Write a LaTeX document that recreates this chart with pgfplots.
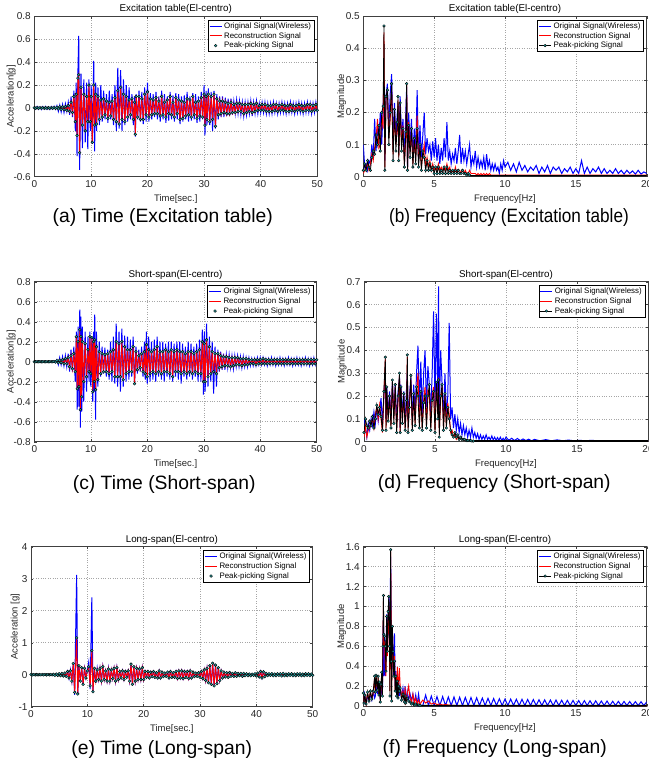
\documentclass[border=0pt]{standalone}
\usepackage{fontspec}
\setmainfont{Liberation Sans}
\usepackage{graphicx}
\usepackage{pgfplots}
\usepackage{pgfplotstable}
\pgfplotsset{compat=1.18}
\definecolor{mblue}{rgb}{0,0,1}
\definecolor{mred}{rgb}{1,0,0}
\definecolor{mteal}{RGB}{40,170,170}
\pgfplotsset{
  mat/.style={
    scale only axis,
    axis line style={black!75, line width=0.5pt},
    every tick/.style={black!75, line width=0.4pt},
    major tick length=2.5pt,
    grid=major, major grid style={black!35, dotted, line width=0.45pt},
    tick label style={font=\fontsize{10}{11}\selectfont, text=black!85},
    label style={font=\fontsize{9.5}{10}\selectfont, text=black!85},
    ylabel shift=-9pt,
    title style={font=\fontsize{9.8}{10}\selectfont, yshift=-7pt},
    /pgf/number format/assume math mode=true,
    scaled ticks=false,
    yticklabel style={/pgf/number format/fixed},
    legend cell align=left,
    legend style={at={(1,1)}, anchor=north east, xshift=-3pt, yshift=-3.5pt, draw=black, line width=0.5pt,
      font=\fontsize{7.9}{8}\selectfont, inner xsep=1pt, inner ysep=0.5pt, row sep=-1.5pt},
    legend image code/.code={\draw[mark repeat=2,mark phase=2,##1,line width=0.9pt] plot coordinates {(0pt,0pt) (6pt,0pt) (12pt,0pt)};},
  },
  bl/.style={mblue, line width=1pt},
  rd/.style={mred, line width=0.9pt},
  pk/.style={only marks, mark=*, mark size=1.4pt, mark options={fill=mteal, draw=black, line width=0.4pt}},
  pkl/.style={black, line width=0.8pt, mark=*, mark size=1.3pt, mark options={fill=mteal, draw=black, line width=0.4pt}},
}
\newcommand{\capfont}{\fontsize{19.3}{22}\selectfont}

\pgfplotstableread{
t b r
0 0.012 0.002
0.25 -0.01 -0.002
0.5 0.013 0.002
0.75 -0.012 -0.002
1 0.01 0.002
1.25 -0.013 -0.002
1.5 0.012 0.002
1.75 -0.01 -0.002
2 0.013 0.002
2.25 -0.012 -0.002
2.5 0.01 0.002
2.75 -0.013 -0.002
3 0.012 0.002
3.25 -0.01 -0.002
3.5 0.014 0.003
3.75 -0.012 -0.003
4 0.02 0.005
4.25 -0.03 -0.008
4.5 0.025 0.01
4.75 -0.035 -0.012
5 0.03 0.01
5.25 -0.04 -0.015
5.5 0.035 0.012
5.75 -0.03 -0.02
6 0.05 0.02
6.25 -0.06 -0.03
6.5 0.1 0.05
6.75 -0.08 -0.04
7 0.15 0.1
7.25 -0.2 -0.12
7.4 0.22 0.12
7.55 -0.42 -0.24
7.7 0.3 0.26
7.85 0.63 0.29
8 -0.54 -0.39
8.25 0.3 0.18
8.5 -0.35 -0.15
8.75 0.25 0.12
9 -0.3 -0.2
9.25 0.22 0.1
9.45 -0.36 -0.12
9.65 0.25 0.2
9.9 -0.2 -0.12
10.05 0.2 0.1
10.25 -0.31 -0.3
10.5 0.41 0.2
10.65 -0.38 -0.15
10.85 0.22 0.12
11 -0.2 -0.14
11.25 0.18 0.1
11.5 -0.15 -0.1
11.75 0.2 0.07
12 -0.12 -0.08
12.25 0.15 0.08
12.5 -0.1 -0.06
12.75 0.12 0.06
13 -0.13 -0.09
13.25 0.15 0.05
13.5 -0.1 -0.07
13.75 0.12 0.06
14 -0.15 -0.1
14.25 0.2 0.09
14.5 -0.2 -0.12
14.75 0.35 0.15
15 -0.18 -0.14
15.25 0.33 0.18
15.5 -0.2 -0.1
15.75 0.25 0.12
16 -0.15 -0.12
16.25 0.2 0.1
16.5 -0.12 -0.08
16.75 0.18 0.07
17 -0.1 -0.06
17.25 0.12 0.08
17.5 -0.15 -0.1
17.7 0.1 0.05
17.85 -0.25 -0.23
18 0.12 0.1
18.25 -0.1 -0.08
18.5 0.15 0.1
18.75 -0.12 -0.1
19 0.14 0.08
19.25 -0.14 -0.1
19.5 0.18 0.12
19.75 -0.12 -0.06
20 0.22 0.14
20.25 -0.12 -0.08
20.5 0.13 0.08
20.75 -0.1 -0.06
21 0.12 0.07
21.25 -0.08 -0.05
21.5 0.14 0.09
21.75 -0.1 -0.05
22 0.1 0.06
22.25 -0.12 -0.07
22.5 0.15 0.1
22.75 -0.1 -0.06
23 0.12 0.05
23.25 -0.13 -0.08
23.5 0.1 0.07
23.75 -0.11 -0.05
24 0.14 0.1
24.25 -0.1 -0.06
24.5 0.11 0.05
24.75 -0.12 -0.08
25 0.13 0.09
25.25 -0.1 -0.05
25.5 0.12 0.07
25.75 -0.14 -0.1
26 0.1 0.06
26.25 -0.12 -0.09
26.5 0.11 0.05
26.75 -0.1 -0.07
27 0.14 0.08
27.25 -0.12 -0.06
27.5 0.1 0.07
27.75 -0.11 -0.08
28 0.13 0.1
28.25 -0.1 -0.06
28.5 0.12 0.05
28.75 -0.13 -0.09
29 0.1 0.06
29.25 -0.12 -0.07
29.5 0.14 0.09
29.75 -0.1 -0.08
30 0.2 0.12
30.15 -0.24 -0.15
30.35 0.15 0.1
30.5 -0.15 -0.1
30.75 0.17 0.12
31 -0.15 -0.12
31.25 0.14 0.1
31.5 -0.2 -0.1
31.75 0.15 0.12
32 -0.18 -0.16
32.25 0.12 0.08
32.5 -0.1 -0.06
32.75 0.1 0.06
33 -0.08 -0.05
33.25 0.1 0.06
33.5 -0.08 -0.04
33.75 0.09 0.05
34 -0.07 -0.05
34.25 0.08 0.04
34.5 -0.07 -0.05
34.75 0.08 0.05
35 -0.06 -0.04
35.25 0.06 0.03
35.5 -0.05 -0.04
35.75 0.07 0.04
36 -0.05 -0.03
36.25 0.06 0.04
36.5 -0.06 -0.03
36.75 0.05 0.03
37 -0.07 -0.05
37.25 0.05 0.03
37.5 -0.06 -0.04
37.75 0.05 0.03
38 -0.05 -0.03
38.25 0.06 0.04
38.5 -0.07 -0.04
38.75 0.05 0.03
39 -0.05 -0.03
39.25 0.06 0.04
39.5 -0.05 -0.02
39.75 0.04 0.02
40 -0.04 -0.02
40.25 0.05 0.03
40.5 -0.04 -0.02
40.75 0.05 0.03
41 -0.05 -0.03
41.25 0.04 0.02
41.5 -0.05 -0.03
41.75 0.04 0.02
42 -0.05 -0.03
42.25 0.05 0.03
42.5 -0.04 -0.02
42.75 0.04 0.03
43 -0.05 -0.03
43.25 0.04 0.02
43.5 -0.04 -0.02
43.75 0.05 0.03
44 -0.04 -0.02
44.25 0.04 0.02
44.5 -0.05 -0.03
44.75 0.04 0.02
45 -0.04 -0.03
45.25 0.05 0.03
45.5 -0.04 -0.02
45.75 0.04 0.02
46 -0.05 -0.03
46.25 0.04 0.02
46.5 -0.04 -0.02
46.75 0.05 0.03
47 -0.04 -0.02
47.25 0.04 0.02
47.5 -0.05 -0.03
47.75 0.04 0.02
48 -0.04 -0.02
48.25 0.05 0.03
48.5 -0.04 -0.02
48.75 0.04 0.03
49 -0.05 -0.03
49.25 0.04 0.02
49.5 -0.04 -0.02
49.75 0.05 0.03
50 -0.04 -0.02
}\tA

\pgfplotstableread{
f b r k
0 0.1 0.01 0.02
0.1 0.03 0.02 0.04
0.2 0.04 0.03 0.02
0.3 0.02 0.04 0.05
0.4 0.05 0.02 0.03
0.5 0.04 0.04 0.02
0.6 0.1 0.07 0.06
0.7 0.06 0.05 0.08
0.8 0.18 0.09 0.07
0.9 0.08 0.12 0.13
1.0 0.15 0.18 0.1
1.1 0.12 0.09 0.16
1.2 0.2 0.1 0.08
1.3 0.1 0.19 0.2
1.4 0.22 0.15 0.22
1.46 0.3 0.45 0.47
1.52 0.05 0.03 0.02
1.6 0.25 0.24 0.25
1.7 0.29 0.27 0.27
1.8 0.15 0.12 0.1
1.9 0.26 0.18 0.2
2.0 0.32 0.28 0.29
2.1 0.1 0.07 0.05
2.2 0.23 0.2 0.21
2.3 0.12 0.1 0.08
2.4 0.2 0.15 0.17
2.45 0.22 0.24 0.25
2.5 0.08 0.06 0.05
2.6 0.25 0.22 0.23
2.7 0.12 0.1 0.08
2.8 0.18 0.16 0.15
2.9 0.06 0.04 0.03
3.0 0.2 0.12 0.14
3.06 0.28 0.29 0.29
3.12 0.03 0.02 0.02
3.2 0.2 0.17 0.16
3.3 0.1 0.08 0.06
3.4 0.18 0.14 0.15
3.5 0.06 0.04 0.03
3.6 0.15 0.11 0.12
3.7 0.08 0.06 0.04
3.8 0.27 0.19 0.15
3.9 0.05 0.05 0.03
4.0 0.16 0.09 0.1
4.1 0.06 0.03 0.02
4.2 0.13 0.07 0.08
4.3 0.2 0.1 0.06
4.4 0.07 0.03 0.02
4.5 0.12 0.06 0.05
4.6 0.08 0.03 0.02
4.7 0.1 0.05 0.04
4.8 0.05 0.02 0.02
4.9 0.11 0.04 0.03
5.0 0.06 0.02 0.01
5.1 0.12 0.03 0.03
5.2 0.05 0.02 0.01
5.3 0.1 0.04 0.03
5.4 0.04 0.02 0.01
5.5 0.09 0.03 0.02
5.6 0.05 0.02 0.01
5.7 0.12 0.03 0.03
5.8 0.06 0.02 0.01
5.9 0.17 0.04 0.03
6.0 0.05 0.02 0.01
6.1 0.08 0.03 0.02
6.2 0.04 0.01 0.01
6.3 0.07 0.02 0.02
6.4 0.05 0.01 0.01
6.5 0.09 0.03 0.02
6.6 0.04 0.01 0.01
6.7 0.08 0.02 0.02
6.8 0.13 0.02 0.01
6.9 0.04 0.01 0.01
7.0 0.09 0.02 0.02
7.1 0.05 0.01 0.01
7.2 0.08 0.02 0.01
7.3 0.04 0.01 0.005
7.4 0.07 0.01 0.01
7.5 0.1 0.02 0.005
7.6 0.03 0.01 0.003
7.7 0.06 0.01 0.003
7.8 0.04 0.01 0.003
7.9 0.08 0.01 0.003
8.0 0.03 0.005 0.003
8.1 0.06 0.01 0.003
8.2 0.03 0.005 0.003
8.3 0.05 0.01 0.003
8.4 0.03 0.005 0.003
8.5 0.06 0.01 0.003
8.6 0.02 0.005 0.003
8.7 0.07 0.01 0.003
8.8 0.03 0.005 0.003
8.9 0.05 0.01 0.003
9.0 0.02 0.005 0.003
9.1 0.04 0.005 0.003
9.2 0.02 0.005 0.003
9.3 0.04 0.005 0.003
9.4 0.02 0.005 0.003
9.5 0.03 0.005 0.003
9.6 0.01 0.005 0.003
9.7 0.04 0.005 0.003
9.8 0.02 0.005 0.003
9.9 0.05 0.005 0.003
10.0 0.03 0.005 0.003
10.2 0.045 0.005 0.003
10.4 0.02 0.005 0.003
10.6 0.04 0.005 0.003
10.8 0.015 0.005 0.003
11.0 0.045 0.005 0.003
11.2 0.02 0.005 0.003
11.4 0.035 0.005 0.003
11.6 0.015 0.005 0.003
11.8 0.03 0.005 0.003
12.0 0.02 0.005 0.003
12.2 0.035 0.005 0.003
12.4 0.01 0.005 0.003
12.6 0.03 0.005 0.003
12.8 0.015 0.005 0.003
13.0 0.035 0.005 0.003
13.2 0.01 0.005 0.003
13.4 0.03 0.005 0.003
13.6 0.02 0.005 0.003
13.8 0.03 0.005 0.003
14.0 0.01 0.005 0.003
14.2 0.025 0.005 0.003
14.4 0.015 0.005 0.003
14.6 0.03 0.005 0.003
14.8 0.01 0.005 0.003
15.0 0.025 0.005 0.003
15.2 0.01 0.005 0.003
15.4 0.05 0.005 0.003
15.6 0.01 0.005 0.003
15.8 0.03 0.005 0.003
16.0 0.01 0.005 0.003
16.2 0.025 0.005 0.003
16.4 0.015 0.005 0.003
16.6 0.03 0.005 0.003
16.8 0.01 0.005 0.003
17.0 0.025 0.005 0.003
17.2 0.01 0.005 0.003
17.4 0.02 0.005 0.003
17.6 0.01 0.005 0.003
17.8 0.025 0.005 0.003
18.0 0.01 0.005 0.003
18.2 0.02 0.005 0.003
18.4 0.008 0.005 0.003
18.6 0.02 0.005 0.003
18.8 0.01 0.005 0.003
19.0 0.018 0.005 0.003
19.2 0.008 0.005 0.003
19.4 0.02 0.005 0.003
19.6 0.008 0.005 0.003
19.8 0.015 0.005 0.003
20.0 0.01 0.005 0.003
}\tB

\pgfplotstableread{
t b r
0 0.005 0
0.25 -0.005 0
0.5 0.005 0
0.75 -0.005 0
1 0.005 0
1.25 -0.005 0
1.5 0.005 0
1.75 -0.005 0
2 0.005 0
2.25 -0.005 0
2.5 0.005 0
2.75 -0.005 0
3 0.005 0
3.25 -0.005 0
3.5 0.008 0.002
3.75 -0.01 -0.003
4 0.02 0.01
4.25 -0.03 -0.01
4.5 0.04 0.015
4.75 -0.03 -0.01
5 0.05 0.02
5.25 -0.04 -0.02
5.5 0.06 0.03
5.75 -0.05 -0.02
6 0.08 0.04
6.25 -0.1 -0.05
6.5 0.12 0.06
6.75 -0.1 -0.07
7 0.15 0.08
7.25 -0.2 -0.1
7.45 0.3 0.25
7.6 -0.48 -0.27
7.75 0.35 0.2
7.9 -0.45 -0.25
8.05 0.52 0.32
8.15 -0.66 -0.48
8.25 0.45 0.25
8.4 -0.5 -0.35
8.5 0.35 0.2
8.75 -0.4 -0.2
9 0.3 0.18
9.25 -0.3 -0.15
9.5 0.25 0.12
9.7 -0.2 -0.1
9.85 0.3 0.25
10 -0.25 -0.12
10.2 0.25 0.24
10.35 -0.4 -0.3
10.5 0.3 0.2
10.6 -0.3 -0.2
10.7 0.47 0.22
10.85 -0.58 -0.28
11 0.3 0.15
11.25 -0.25 -0.18
11.5 0.2 0.1
11.75 -0.15 -0.12
12 0.15 0.08
12.25 -0.12 -0.1
12.5 0.14 0.07
12.75 -0.15 -0.1
13 0.12 0.08
13.25 -0.18 -0.12
13.5 0.2 0.1
13.75 -0.2 -0.1
14 0.25 0.12
14.25 -0.22 -0.15
14.5 0.38 0.2
14.75 -0.25 -0.15
15 0.3 0.18
15.25 -0.3 -0.15
15.5 0.33 0.2
15.75 -0.25 -0.18
16 0.26 0.15
16.25 -0.2 -0.12
16.5 0.25 0.12
16.75 -0.18 -0.1
17 0.22 0.12
17.25 -0.15 -0.1
17.5 0.25 0.15
17.75 -0.22 -0.22
18 0.15 0.1
18.25 -0.12 -0.08
18.5 0.12 0.06
18.75 -0.1 -0.06
19 0.15 0.08
19.25 -0.15 -0.1
19.5 0.2 0.1
19.65 -0.18 -0.12
19.85 0.3 0.17
20 -0.22 -0.15
20.25 0.25 0.12
20.5 -0.2 -0.12
20.75 0.2 0.1
21 -0.18 -0.1
21.25 0.22 0.12
21.5 -0.2 -0.12
21.75 0.25 0.15
22 -0.15 -0.1
22.25 0.2 0.1
22.5 -0.18 -0.12
22.75 0.2 0.1
23 -0.2 -0.1
23.25 0.18 0.12
23.5 -0.15 -0.1
23.75 0.2 0.1
24 -0.18 -0.12
24.25 0.2 0.12
24.5 -0.2 -0.15
24.75 0.18 0.1
25 -0.15 -0.1
25.25 0.2 0.12
25.5 -0.18 -0.1
25.75 0.2 0.1
26 -0.22 -0.12
26.25 0.18 0.1
26.5 -0.15 -0.1
26.75 0.15 0.08
27 -0.18 -0.12
27.25 0.2 0.1
27.5 -0.15 -0.1
27.75 0.18 0.1
28 -0.18 -0.12
28.25 0.15 0.08
28.5 -0.15 -0.1
28.75 0.18 0.1
29 -0.2 -0.12
29.25 0.22 0.12
29.5 -0.2 -0.12
29.75 0.32 0.2
29.95 -0.33 -0.2
30.1 0.3 0.18
30.25 -0.3 -0.2
30.5 0.38 0.22
30.75 -0.25 -0.15
31 0.25 0.15
31.25 -0.2 -0.12
31.5 0.2 0.1
31.75 -0.32 -0.1
32 0.15 0.08
32.25 -0.25 -0.12
32.5 0.12 0.08
32.75 -0.1 -0.06
33 0.1 0.06
33.25 -0.08 -0.05
33.5 0.08 0.05
33.75 -0.08 -0.04
34 0.07 0.05
34.25 -0.06 -0.04
34.5 0.07 0.04
34.75 -0.06 -0.05
35 0.06 0.04
35.25 -0.07 -0.04
35.5 0.06 0.04
35.75 -0.05 -0.03
36 0.06 0.04
36.25 -0.05 -0.03
36.5 0.05 0.03
36.75 -0.06 -0.04
37 0.05 0.03
37.25 -0.05 -0.03
37.5 0.04 0.03
37.75 -0.05 -0.03
38 0.04 0.02
38.25 -0.04 -0.02
38.5 0.03 0.02
38.75 -0.04 -0.02
39 0.03 0.02
39.25 -0.04 -0.03
39.5 0.04 0.02
39.75 -0.03 -0.02
40 0.04 0.02
40.25 -0.03 -0.02
40.5 0.04 0.03
40.75 -0.03 -0.02
41 0.03 0.02
41.25 -0.04 -0.02
41.5 0.03 0.02
41.75 -0.03 -0.02
42 0.04 0.02
42.25 -0.03 -0.02
42.5 0.03 0.02
42.75 -0.04 -0.02
43 0.03 0.02
43.25 -0.03 -0.02
43.5 0.04 0.02
43.75 -0.03 -0.02
44 0.03 0.02
44.25 -0.04 -0.02
44.5 0.03 0.02
44.75 -0.03 -0.02
45 0.04 0.02
45.25 -0.03 -0.02
45.5 0.03 0.02
45.75 -0.04 -0.02
46 0.03 0.02
46.25 -0.03 -0.02
46.5 0.04 0.02
46.75 -0.03 -0.02
47 0.03 0.02
47.25 -0.04 -0.02
47.5 0.03 0.02
47.75 -0.03 -0.02
48 0.04 0.02
48.25 -0.03 -0.02
48.5 0.03 0.02
48.75 -0.04 -0.02
49 0.03 0.02
49.25 -0.03 -0.02
49.5 0.04 0.02
49.75 -0.03 -0.02
50 0.03 0.02
}\tC

\pgfplotstableread{
f b r k
0 0.1 0.02 0.04
0.1 0.06 0.07 0.1
0.2 0.02 0.02 0.07
0.3 0.08 0.05 0.06
0.4 0.05 0.06 0.09
0.5 0.1 0.08 0.07
0.6 0.07 0.1 0.11
0.7 0.13 0.06 0.06
0.8 0.08 0.12 0.1
0.9 0.15 0.15 0.16
1.0 0.09 0.1 0.12
1.1 0.14 0.16 0.15
1.2 0.19 0.1 0.11
1.3 0.08 0.04 0.05
1.4 0.2 0.2 0.22
1.5 0.3 0.36 0.37
1.55 0.1 0.06 0.05
1.6 0.24 0.22 0.24
1.7 0.12 0.1 0.09
1.8 0.22 0.2 0.2
1.9 0.1 0.07 0.06
2.0 0.26 0.26 0.27
2.1 0.12 0.1 0.08
2.2 0.25 0.24 0.25
2.3 0.08 0.05 0.04
2.4 0.22 0.18 0.2
2.5 0.28 0.29 0.3
2.55 0.06 0.04 0.04
2.6 0.25 0.23 0.24
2.7 0.12 0.09 0.08
2.8 0.22 0.2 0.21
2.9 0.08 0.06 0.05
3.0 0.24 0.17 0.18
3.05 0.3 0.37 0.38
3.1 0.1 0.06 0.04
3.2 0.2 0.17 0.15
3.3 0.28 0.27 0.29
3.4 0.1 0.06 0.05
3.5 0.25 0.2 0.21
3.6 0.12 0.08 0.07
3.7 0.3 0.22 0.24
3.8 0.42 0.3 0.2
3.9 0.15 0.08 0.06
4.0 0.35 0.2 0.22
4.1 0.12 0.06 0.05
4.2 0.3 0.18 0.17
4.3 0.4 0.24 0.2
4.4 0.15 0.07 0.06
4.5 0.33 0.22 0.2
4.6 0.25 0.2 0.25
4.7 0.12 0.06 0.05
4.8 0.3 0.2 0.18
4.9 0.57 0.24 0.22
5.0 0.15 0.05 0.04
5.1 0.56 0.25 0.26
5.2 0.2 0.12 0.1
5.25 0.68 0.28 0.27
5.3 0.12 0.04 0.02
5.4 0.4 0.18 0.2
5.5 0.25 0.24 0.25
5.6 0.1 0.06 0.05
5.7 0.3 0.2 0.21
5.8 0.12 0.07 0.06
5.9 0.2 0.17 0.15
6.0 0.52 0.12 0.1
6.1 0.1 0.04 0.05
6.2 0.15 0.05 0.03
6.3 0.06 0.02 0.02
6.4 0.12 0.03 0.04
6.5 0.05 0.01 0.02
6.6 0.1 0.02 0.03
6.7 0.04 0.01 0.01
6.8 0.08 0.02 0.02
6.9 0.03 0.01 0.01
7.0 0.07 0.01 0.01
7.1 0.03 0.005 0.01
7.2 0.06 0.01 0.005
7.3 0.02 0.005 0.005
7.4 0.05 0.005 0.005
7.5 0.02 0.005 0.005
7.6 0.06 0.005 0.003
7.7 0.02 0.003 0.003
7.8 0.04 0.003 0.003
7.9 0.015 0.003 0.003
8.0 0.035 0.003 0.003
8.1 0.01 0.003 0.003
8.2 0.03 0.003 0.003
8.3 0.01 0.003 0.003
8.4 0.025 0.003 0.003
8.5 0.01 0.003 0.003
8.6 0.03 0.003 0.003
8.7 0.01 0.003 0.003
8.8 0.02 0.003 0.003
8.9 0.008 0.003 0.003
9.0 0.025 0.003 0.003
9.1 0.008 0.003 0.003
9.2 0.02 0.003 0.003
9.3 0.006 0.003 0.003
9.4 0.018 0.003 0.003
9.5 0.006 0.003 0.003
9.6 0.02 0.003 0.003
9.7 0.006 0.003 0.003
9.8 0.015 0.003 0.003
9.9 0.005 0.003 0.003
10.0 0.02 0.003 0.003
10.2 0.006 0.003 0.003
10.4 0.015 0.003 0.003
10.6 0.005 0.003 0.003
10.8 0.014 0.003 0.003
11.0 0.005 0.003 0.003
11.2 0.012 0.003 0.003
11.4 0.005 0.003 0.003
11.6 0.011 0.003 0.003
11.8 0.004 0.003 0.003
12.0 0.01 0.003 0.003
12.4 0.004 0.003 0.003
12.8 0.009 0.003 0.003
13.2 0.004 0.003 0.003
13.6 0.008 0.003 0.003
14.0 0.004 0.003 0.003
14.4 0.007 0.003 0.003
14.8 0.004 0.003 0.003
15.2 0.006 0.003 0.003
15.6 0.004 0.003 0.003
16.0 0.006 0.003 0.003
16.5 0.004 0.003 0.003
17.0 0.005 0.003 0.003
17.5 0.004 0.003 0.003
18.0 0.005 0.003 0.003
18.5 0.004 0.003 0.003
19.0 0.005 0.003 0.003
19.5 0.004 0.003 0.003
20.0 0.004 0.003 0.003
}\tD

\pgfplotstableread{
t b r
0 0.01 0.005
0.25 -0.01 -0.005
0.5 0.01 0.005
0.75 -0.01 -0.005
1 0.01 0.005
1.25 -0.01 -0.005
1.5 0.01 0.005
1.75 -0.01 -0.005
2 0.01 0.005
2.25 -0.01 -0.005
2.5 0.01 0.005
2.75 -0.01 -0.005
3 0.01 0.005
3.25 -0.01 -0.005
3.5 0.01 0.005
3.75 -0.01 -0.005
4 0.01 0.01
4.25 -0.02 -0.02
4.5 0.02 0.02
4.75 -0.02 -0.02
5 0.03 0.03
5.25 -0.03 -0.03
5.5 0.04 0.04
5.75 -0.04 -0.04
6 0.05 0.05
6.25 -0.05 -0.05
6.5 0.1 0.1
6.75 -0.12 -0.1
7 0.15 0.12
7.25 -0.2 -0.2
7.5 0.36 0.35
7.75 -0.63 -0.55
8.1 3.12 1.15
8.3 -0.6 -0.6
8.5 0.3 0.28
8.75 -0.2 -0.2
9 0.25 0.22
9.25 -0.3 -0.3
9.5 0.2 0.2
9.75 -0.1 -0.1
10 0.15 0.12
10.25 0.4 0.25
10.5 -0.45 -0.35
10.8 2.42 0.75
11 -0.53 -0.53
11.25 0.2 0.2
11.5 -0.25 -0.2
11.75 0.2 0.15
12 -0.15 -0.15
12.25 0.2 0.2
12.5 -0.2 -0.2
12.75 0.25 0.25
13 -0.15 -0.15
13.25 0.12 0.12
13.5 -0.2 -0.2
13.75 0.2 0.18
14 -0.2 -0.2
14.25 0.15 0.15
14.5 -0.12 -0.12
14.75 0.2 0.2
15 -0.2 -0.2
15.25 0.22 0.22
15.5 -0.15 -0.15
15.75 0.1 0.1
16 -0.1 -0.1
16.25 0.12 0.12
16.5 -0.15 -0.15
16.75 0.1 0.1
17 -0.08 -0.08
17.25 0.12 0.12
17.5 -0.2 -0.2
17.75 0.33 0.33
18 -0.3 -0.3
18.25 0.25 0.25
18.5 -0.2 -0.2
18.75 0.2 0.2
19 -0.15 -0.15
19.25 0.18 0.18
19.5 -0.15 -0.15
19.75 0.22 0.22
20 -0.15 -0.15
20.25 0.1 0.1
20.5 -0.08 -0.08
20.75 0.1 0.1
21 -0.1 -0.1
21.25 0.08 0.08
21.5 -0.06 -0.06
21.75 0.1 0.1
22 -0.08 -0.08
22.25 0.06 0.06
22.5 -0.1 -0.1
22.75 0.12 0.12
23 -0.1 -0.1
23.25 0.08 0.08
23.5 -0.06 -0.06
23.75 0.05 0.05
24 -0.05 -0.05
24.25 0.08 0.08
24.5 -0.1 -0.1
24.75 0.1 0.1
25 -0.08 -0.08
25.25 0.06 0.06
25.5 -0.08 -0.08
25.75 0.1 0.1
26 -0.12 -0.12
26.25 0.12 0.12
26.5 -0.1 -0.1
26.75 0.12 0.12
27 -0.12 -0.12
27.25 0.1 0.1
27.5 -0.08 -0.08
27.75 0.1 0.1
28 -0.12 -0.12
28.25 0.12 0.12
28.5 -0.1 -0.1
28.75 0.08 0.08
29 -0.06 -0.06
29.25 0.05 0.05
29.5 -0.05 -0.05
29.75 0.06 0.06
30 -0.08 -0.08
30.25 0.1 0.1
30.5 -0.12 -0.12
30.75 0.15 0.15
31 -0.18 -0.18
31.25 0.2 0.2
31.5 -0.25 -0.25
31.75 0.28 0.28
32 -0.3 -0.3
32.25 0.36 0.36
32.5 -0.35 -0.35
32.75 0.3 0.3
33 -0.28 -0.28
33.25 0.22 0.22
33.5 -0.18 -0.18
33.75 0.12 0.12
34 -0.1 -0.1
34.25 0.08 0.08
34.5 -0.07 -0.07
34.75 0.06 0.06
35 -0.08 -0.08
35.25 0.07 0.07
35.5 -0.05 -0.05
35.75 0.04 0.04
36 -0.05 -0.05
36.25 0.06 0.06
36.5 -0.05 -0.05
36.75 0.04 0.04
37 -0.03 -0.03
37.25 0.04 0.04
37.5 -0.05 -0.05
37.75 0.04 0.04
38 -0.03 -0.03
38.25 0.03 0.03
38.5 -0.03 -0.03
38.75 0.02 0.02
39 -0.03 -0.03
39.25 0.02 0.02
39.5 -0.02 -0.02
39.75 0.03 0.03
40 -0.04 -0.04
40.25 0.05 0.05
40.5 -0.07 -0.07
40.75 0.1 0.1
41 -0.1 -0.1
41.25 0.09 0.09
41.5 -0.06 -0.06
41.75 0.04 0.04
42 -0.03 -0.03
42.25 0.03 0.03
42.5 -0.02 -0.02
42.75 0.03 0.03
43 -0.03 -0.03
43.25 0.02 0.02
43.5 -0.03 -0.03
43.75 0.03 0.03
44 -0.02 -0.02
44.25 0.03 0.03
44.5 -0.04 -0.04
44.75 0.04 0.04
45 -0.03 -0.03
45.25 0.02 0.02
45.5 -0.03 -0.03
45.75 0.03 0.03
46 -0.02 -0.02
46.25 0.03 0.03
46.5 -0.03 -0.03
46.75 0.02 0.02
47 -0.03 -0.03
47.25 0.03 0.03
47.5 -0.02 -0.02
47.75 0.03 0.03
48 -0.03 -0.03
48.25 0.02 0.02
48.5 -0.03 -0.03
48.75 0.03 0.03
49 -0.02 -0.02
49.25 0.03 0.03
49.5 -0.03 -0.03
49.75 0.02 0.02
50 -0.02 -0.02
}\tE

\pgfplotstableread{
f b r k
0 0.1 0.13 0.13
0.05 0.05 0.03 0.03
0.1 0.12 0.1 0.11
0.2 0.03 0.02 0.02
0.3 0.1 0.13 0.14
0.4 0.05 0.06 0.05
0.5 0.12 0.14 0.15
0.6 0.06 0.08 0.07
0.7 0.14 0.12 0.15
0.8 0.08 0.28 0.3
0.85 0.1 0.15 0.14
0.9 0.25 0.3 0.31
1.0 0.12 0.15 0.16
1.05 0.22 0.28 0.3
1.1 0.1 0.12 0.11
1.15 0.2 0.22 0.24
1.2 0.06 0.05 0.04
1.25 0.2 0.2 0.22
1.3 0.15 0.32 0.34
1.35 0.1 0.12 0.1
1.38 0.6 0.55 0.6
1.42 0.9 1.05 1.11
1.45 0.3 0.6 0.72
1.5 0.7 0.65 0.7
1.55 0.3 0.4 0.6
1.6 0.5 0.3 0.35
1.65 0.92 0.85 0.9
1.7 0.6 0.5 0.55
1.75 0.8 0.88 0.95
1.8 1.1 1.0 1.1
1.85 0.7 0.5 0.6
1.88 0.5 0.15 0.1
1.93 1.5 1.55 1.57
1.98 0.6 0.5 0.45
2.0 0.3 0.1 0.05
2.05 0.75 0.8 0.8
2.1 0.5 0.45 0.55
2.15 0.3 0.35 0.3
2.2 0.73 0.5 0.45
2.25 0.2 0.15 0.15
2.3 0.35 0.3 0.3
2.35 0.15 0.12 0.1
2.4 0.3 0.39 0.25
2.45 0.1 0.1 0.08
2.5 0.25 0.3 0.2
2.55 0.1 0.38 0.15
2.6 0.2 0.2 0.18
2.7 0.08 0.1 0.06
2.8 0.18 0.15 0.12
2.9 0.06 0.05 0.04
2.95 0.2 0.19 0.1
3.0 0.05 0.04 0.03
3.1 0.15 0.12 0.08
3.2 0.06 0.2 0.05
3.3 0.12 0.08 0.04
3.4 0.05 0.04 0.02
3.5 0.12 0.12 0.03
3.6 0.03 0.03 0.01
3.7 0.11 0.08 0.02
3.8 0.02 0.02 0.01
3.9 0.12 0.06 0.01
4.0 0.01 0.02 0.005
4.2 0.005 0.06 0.003
4.4 0.11 0.03 0.003
4.6 0.005 0.05 0.003
4.8 0.1 0.02 0.003
5.0 0.005 0.03 0.003
5.2 0.095 0.015 0.003
5.4 0.005 0.02 0.003
5.6 0.095 0.01 0.003
5.8 0.005 0.015 0.003
6.0 0.09 0.01 0.003
6.2 0.005 0.008 0.003
6.4 0.09 0.006 0.003
6.6 0.005 0.004 0.003
6.8 0.088 0.004 0.003
7.0 0.005 0.004 0.003
7.2 0.087 0.004 0.003
7.4 0.005 0.004 0.003
7.6 0.085 0.004 0.003
7.8 0.005 0.004 0.003
8.0 0.083 0.004 0.003
8.2 0.005 0.004 0.003
8.4 0.08 0.004 0.003
8.6 0.005 0.004 0.003
8.8 0.078 0.004 0.003
9.0 0.005 0.004 0.003
9.2 0.075 0.004 0.003
9.4 0.005 0.004 0.003
9.6 0.073 0.004 0.003
9.8 0.005 0.004 0.003
10.0 0.07 0.004 0.003
10.2 0.005 0.004 0.003
10.4 0.07 0.004 0.003
10.6 0.005 0.004 0.003
10.8 0.068 0.004 0.003
11.0 0.005 0.004 0.003
11.2 0.067 0.004 0.003
11.4 0.005 0.004 0.003
11.6 0.066 0.004 0.003
11.8 0.005 0.004 0.003
12.0 0.065 0.004 0.003
12.2 0.005 0.004 0.003
12.4 0.063 0.004 0.003
12.6 0.005 0.004 0.003
12.8 0.062 0.004 0.003
13.0 0.005 0.004 0.003
13.2 0.06 0.004 0.003
13.4 0.005 0.004 0.003
13.6 0.06 0.004 0.003
13.8 0.005 0.004 0.003
14.0 0.058 0.004 0.003
14.2 0.005 0.004 0.003
14.4 0.057 0.004 0.003
14.6 0.005 0.004 0.003
14.8 0.056 0.004 0.003
15.0 0.005 0.004 0.003
15.2 0.055 0.004 0.003
15.4 0.005 0.004 0.003
15.6 0.054 0.004 0.003
15.8 0.005 0.004 0.003
16.0 0.053 0.004 0.003
16.2 0.005 0.004 0.003
16.4 0.052 0.004 0.003
16.6 0.005 0.004 0.003
16.8 0.05 0.004 0.003
17.0 0.005 0.004 0.003
17.2 0.05 0.004 0.003
17.4 0.005 0.004 0.003
17.6 0.048 0.004 0.003
17.8 0.005 0.004 0.003
18.0 0.047 0.004 0.003
18.2 0.005 0.004 0.003
18.4 0.046 0.004 0.003
18.6 0.005 0.004 0.003
18.8 0.045 0.004 0.003
19.0 0.005 0.004 0.003
19.2 0.044 0.004 0.003
19.4 0.005 0.004 0.003
19.6 0.043 0.004 0.003
19.8 0.005 0.004 0.003
20.0 0.042 0.004 0.003
}\tF

\begin{document}
\begin{tikzpicture}
\useasboundingbox (0,0) rectangle (648pt,-763pt);
% (a)
\begin{axis}[mat, at={(34.3pt,-16.3pt)}, anchor=north west, width=283pt, height=160.4pt,
  xmin=0, xmax=50, ymin=-0.6, ymax=0.8, xtick={0,10,20,30,40,50},
  ytick={-0.6,-0.4,-0.2,0,0.2,0.4,0.6,0.8},
  title={Excitation table(El-centro)}, xlabel={Time[sec.]}, ylabel={Acceleration[g]}]
\addplot[bl] table[x=t,y=b]{\tA};
\addplot[rd] table[x=t,y=r]{\tA};
\addplot[pk] table[x=t,y=r]{\tA};
\legend{Original Signal(Wireless),Reconstruction Signal,Peak-picking Signal}
\end{axis}
% (b)
\begin{axis}[mat, at={(363.3pt,-16.3pt)}, anchor=north west, width=283.4pt, height=160.4pt,
  xmin=0, xmax=20, ymin=0, ymax=0.5, xtick={0,5,10,15,20},
  ytick={0,0.1,0.2,0.3,0.4,0.5}, ylabel shift=-7pt,
  title={Excitation table(El-centro)}, xlabel={Frequency[Hz]}, ylabel={Magnitude}]
\addplot[bl] table[x=f,y=b]{\tB};
\addplot[rd] table[x=f,y=r]{\tB};
\addplot[pkl, restrict x to domain=0:7.5] table[x=f,y=k]{\tB};
\addplot[black, line width=1.2pt, forget plot, restrict x to domain=7.4:20] table[x=f,y=k]{\tB};
\legend{Original Signal(Wireless),Reconstruction Signal,Peak-picking Signal}
\end{axis}
% (c)
\begin{axis}[mat, at={(34.3pt,-281.7pt)}, anchor=north west, width=282.4pt, height=160pt,
  xmin=0, xmax=50, ymin=-0.8, ymax=0.8, xtick={0,10,20,30,40,50},
  ytick={-0.8,-0.6,-0.4,-0.2,0,0.2,0.4,0.6,0.8},
  title={Short-span(El-centro)}, xlabel={Time[sec.]}, ylabel={Acceleration[g]}]
\addplot[bl] table[x=t,y=b]{\tC};
\addplot[rd] table[x=t,y=r]{\tC};
\addplot[pk] table[x=t,y=r]{\tC};
\legend{Original Signal(Wireless),Reconstruction Signal,Peak-picking Signal}
\end{axis}
% (d)
\begin{axis}[mat, at={(364pt,-281.7pt)}, anchor=north west, width=284pt, height=160pt,
  xmin=0, xmax=20, ymin=0, ymax=0.7, xtick={0,5,10,15,20},
  ytick={0,0.1,0.2,0.3,0.4,0.5,0.6,0.7}, ylabel shift=-7pt,
  title={Short-span(El-centro)}, xlabel={Frequency[Hz]}, ylabel={Magnitude}]
\addplot[bl] table[x=f,y=b]{\tD};
\addplot[rd] table[x=f,y=r]{\tD};
\addplot[pkl, restrict x to domain=0:7.7] table[x=f,y=k]{\tD};
\addplot[black, line width=1.2pt, forget plot, restrict x to domain=7.6:20] table[x=f,y=k]{\tD};
\legend{Original Signal(Wireless),Reconstruction Signal,Peak-picking Signal}
\end{axis}
% (e)
\begin{axis}[mat, at={(31pt,-546.7pt)}, anchor=north west, width=281.7pt, height=160pt,
  xmin=0, xmax=50, ymin=-1, ymax=4, xtick={0,10,20,30,40,50},
  ytick={-1,0,1,2,3,4}, ylabel shift=-8pt,
  title={Long-span(El-centro)}, xlabel={Time[sec.]}, ylabel={Acceleration [g]}]
\addplot[bl] table[x=t,y=b]{\tE};
\addplot[rd] table[x=t,y=r]{\tE};
\addplot[pk] table[x=t,y=r]{\tE};
\legend{Original Signal(Wireless),Reconstruction Signal,Peak-picking Signal}
\end{axis}
% (f)
\begin{axis}[mat, at={(363.3pt,-546.7pt)}, anchor=north west, width=283.4pt, height=159.3pt,
  xmin=0, xmax=20, ymin=0, ymax=1.6, xtick={0,5,10,15,20},
  ytick={0,0.2,0.4,0.6,0.8,1,1.2,1.4,1.6}, ylabel shift=-7pt,
  title={Long-span(El-centro)}, xlabel={Frequency[Hz]}, ylabel={Magnitude}]
\addplot[bl] table[x=f,y=b]{\tF};
\addplot[rd] table[x=f,y=r]{\tF};
\addplot[pkl, restrict x to domain=0:4] table[x=f,y=k]{\tF};
\addplot[black, line width=1.5pt, forget plot, restrict x to domain=3.9:20] table[x=f,y=k]{\tF};
\legend{Original Signal(Wireless),Reconstruction Signal,Peak-picking Signal}
\end{axis}
% captions
\node[font=\capfont] at (162.8pt,-218pt) {(a) Time (Excitation table)};
\node[font=\capfont] at (509pt,-218pt) {\scalebox{0.89}[1]{(b) Frequency (Excitation table)}};
\node[font=\capfont] at (164.2pt,-484.7pt) {(c) Time (Short-span)};
\node[font=\capfont] at (494.3pt,-483.8pt) {(d) Frequency (Short-span)};
\node[font=\capfont] at (161.7pt,-749pt) {(e) Time (Long-span)};
\node[font=\capfont] at (494.8pt,-748.3pt) {(f) Frequency (Long-span)};
\end{tikzpicture}
\end{document}
